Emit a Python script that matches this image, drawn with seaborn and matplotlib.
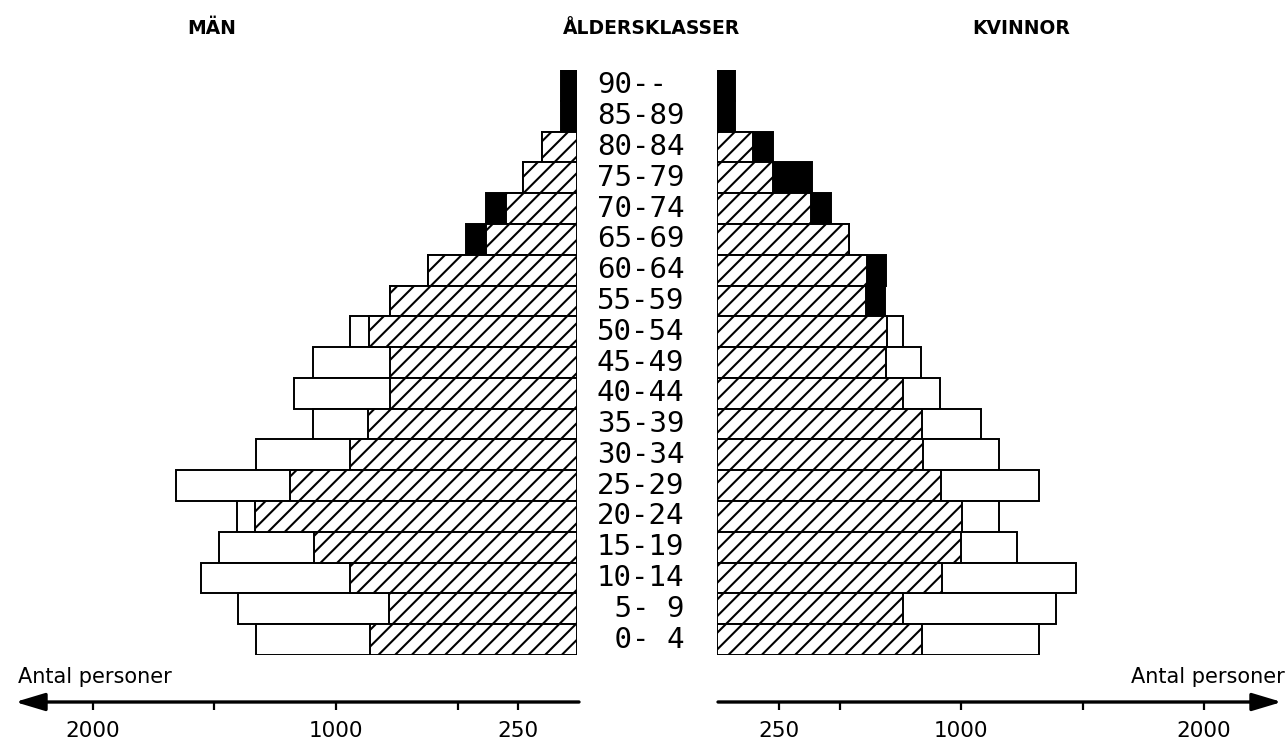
import numpy as np
import pandas as pd
import seaborn as sns
import matplotlib.pyplot as plt
import matplotlib.transforms as mtrans


# age classes, top row first
ages = ["90--", "85-89", "80-84", "75-79", "70-74", "65-69", "60-64",
        "55-59", "50-54", "45-49", "40-44", "35-39", "30-34", "25-29",
        "20-24", "15-19", "10-14", " 5- 9", " 0- 4"]

# män (men): hatched part, white extension, black extension
man_hatched = [0, 0, 144, 222, 292, 374, 613, 770, 856, 770, 770, 860,
               934, 1181, 1325, 1082, 934, 774, 852]
man_white = [0, 0, 0, 0, 0, 0, 0, 0, 78, 317, 395, 226,
             387, 469, 74, 391, 613, 621, 469]
man_black = [66, 66, 0, 0, 82, 82, 0, 0, 0, 0, 0, 0,
             0, 0, 0, 0, 0, 0, 0]

# kvinnor (women)
kv_hatched = [0, 0, 147, 229, 388, 543, 616, 612, 698, 694, 767, 845,
              849, 922, 1008, 1004, 927, 767, 845]
kv_white = [0, 0, 0, 0, 0, 0, 0, 0, 69, 147, 151, 241,
            310, 404, 151, 229, 551, 629, 482]
kv_black = [73, 73, 82, 163, 82, 0, 78, 78, 0, 0, 0, 0,
            0, 0, 0, 0, 0, 0, 0]

scale_ticks = [250, 500, 1000, 1500, 2000]
scale_labels = ["250", "", "1000", "", "2000"]

sns.set_style("white")
plt.rcParams["font.family"] = ["DejaVu Sans"]
plt.rcParams["text.color"] = "black"
plt.rcParams["xtick.color"] = "black"
plt.rcParams["hatch.linewidth"] = 1.5
plt.rcParams["hatch.color"] = "black"

W, H = 1288, 745
PX = 0.243  # pixels per person
ORIG_L, ORIG_R = 577, 717


def side_frame(hatched, white, black):
    df = pd.DataFrame({"age": ages, "hatched": hatched,
                       "white": white, "black": black})
    df["total"] = df["hatched"] + df["white"] + df["black"]
    df["fill"] = np.where(df["black"] > 0, "black", "white")
    return df


def draw_side(ax, df):
    # whole bar first (white or black end), hatched part on top
    sns.barplot(data=df, y="age", x="total", hue="age", order=ages,
                palette=dict(zip(df["age"], df["fill"])), dodge=False,
                legend=False, saturation=1, width=1.0, edgecolor="black",
                linewidth=1.4, errorbar=None, ax=ax)
    sns.barplot(data=df, y="age", x="hatched", order=ages, color="white",
                saturation=1, width=1.0, edgecolor="black", linewidth=1.4,
                hatch="//", errorbar=None, ax=ax)
    ax.set_ylim(18.5, -0.5)
    ax.set_axis_off()


fig = plt.figure(figsize=(W / 100, H / 100), dpi=100)

bar_bottom = (H - 655) / H
bar_height = (655 - 70) / H

ax_l = fig.add_axes([0, bar_bottom, ORIG_L / W, bar_height])
ax_r = fig.add_axes([ORIG_R / W, bar_bottom, (W - ORIG_R) / W, bar_height])

draw_side(ax_l, side_frame(man_hatched, man_white, man_black))
draw_side(ax_r, side_frame(kv_hatched, kv_white, kv_black))
ax_l.set_xlim(ORIG_L / PX, 0)
ax_r.set_xlim(0, (W - ORIG_R) / PX)

# age class labels between the halves
trans = mtrans.blended_transform_factory(fig.transFigure, ax_l.transData)
for i, a in enumerate(ages):
    ax_l.text(597 / W, i, a, transform=trans, ha="left", va="center",
              fontsize=21, family="DejaVu Sans Mono", clip_on=False)

# bottom scales with arrows
axis_y = (H - 702) / H
for left, width, xlim in [(0, (ORIG_L + 2) / W, ((ORIG_L + 2) / PX, 0)),
                          ((ORIG_R + 1) / W, (W - ORIG_R - 1) / W,
                           (0, (W - ORIG_R - 1) / PX))]:
    sx = fig.add_axes([left, axis_y, width, 0.01])
    sx.set_xlim(*xlim)
    sx.set_ylim(0, 1)
    for s in sx.spines.values():
        s.set_visible(False)
    sx.set_yticks([])
    sx.set_xticks(scale_ticks)
    sx.set_xticklabels(scale_labels, fontsize=15.5)
    sx.tick_params(axis="x", direction="out", length=6, width=1.6,
                   pad=8, colors="black", bottom=True)
    sx.patch.set_visible(False)
    sx.annotate("", xy=(2320, 0), xytext=(0, 0), xycoords="data",
                arrowprops=dict(arrowstyle="-|>,head_length=1.0,head_width=0.3",
                                mutation_scale=18, lw=2.4, color="black",
                                shrinkA=0, shrinkB=0),
                annotation_clip=False)

label_y = 1 - 677 / H
fig.text(18 / W, label_y, "Antal personer", ha="left", va="center", fontsize=15)
fig.text(1285 / W, label_y, "Antal personer", ha="right", va="center", fontsize=15)

title_y = 1 - 28 / H
fig.text(212 / W, title_y, "MÄN", ha="center", va="center",
         fontsize=13.5, fontweight="bold")
fig.text(652 / W, title_y, "ÅLDERSKLASSER", ha="center", va="center",
         fontsize=13.5, fontweight="bold")
fig.text(1021 / W, title_y, "KVINNOR", ha="center", va="center",
         fontsize=13.5, fontweight="bold")

fig.savefig("out.png", dpi=100)
